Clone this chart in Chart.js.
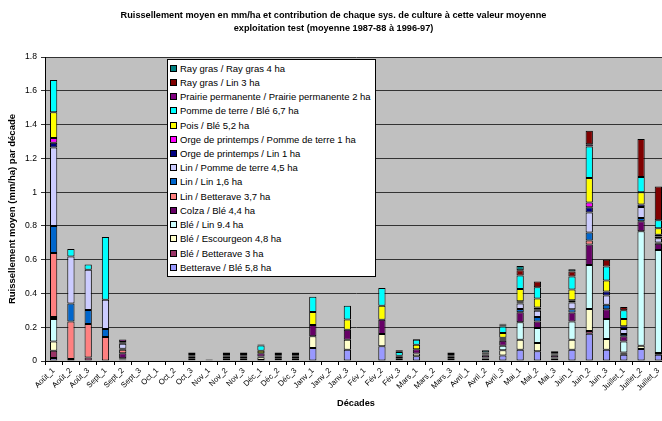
<!DOCTYPE html>
<html>
<head>
<meta charset="utf-8">
<script src="https://cdn.jsdelivr.net/npm/chart.js@4"></script>
<style>
    body { margin: 0; width: 662px; height: 421px; overflow: hidden; background: #fff; font-family: 'Liberation Sans', Arial, sans-serif; }
    #wrap { position: relative; width: 670px; height: 421px; }
    #legend { position: absolute; left: 167px; top: 59px; background: #fff; border: 1px solid #000; padding: 1px 4px 1px 2px; }
    #legend div { height: 14.24px; display: flex; align-items: center; font-size: 9.5px; color: #000; white-space: nowrap; }
    #legend span { display: inline-block; width: 5px; height: 5px; border: 1px solid #000; margin-right: 3px; }
</style>
</head>
<body>
<div id="wrap">
    <canvas id="chart" width="670" height="421"></canvas>
    <div id="legend"></div>
</div>
<script>
const categories = ['Août_1', 'Août_2', 'Août_3', 'Sept_1', 'Sept_2', 'Sept_3', 'Oct_1', 'Oct_2', 'Oct_3', 'Nov_1', 'Nov_2', 'Nov_3',
    'Déc_1', 'Déc_2', 'Déc_3', 'Janv_1', 'Janv_2', 'Janv_3', 'Fév_1', 'Fév_2', 'Fév_3', 'Mars_1', 'Mars_2', 'Mars_3',
    'Avril_1', 'Avril_2', 'Avril_3', 'Mai_1', 'Mai_2', 'Mai_3', 'Juin_1', 'Juin_2', 'Juin_3', 'Juillet_1', 'Juillet_2', 'Juillet_3'];

// one row of 12 values per line: Août_1..Nov_3, Déc_1..Mars_3, Avril_1..Juillet_3
const betteraveBle = [0.018, 0, 0, 0, 0.005, 0, 0, 0, 0.004, 0, 0.004, 0.004,
    0.006, 0.004, 0.004, 0.077, 0, 0.067, 0, 0.087, 0.005, 0.028, 0, 0.004,
    0, 0.005, 0.032, 0.067, 0.057, 0.005, 0.067, 0.162, 0.067, 0.037, 0.071, 0.037];
const bleBetterave = [0.043, 0.012, 0.021, 0, 0.003, 0, 0, 0, 0, 0, 0, 0,
    0, 0, 0, 0, 0, 0, 0, 0, 0, 0, 0, 0,
    0, 0, 0, 0, 0, 0, 0, 0.016, 0, 0.006, 0, 0];
const bleEscourgeon = [0.055, 0, 0, 0, 0.003, 0, 0, 0, 0.008, 0.005, 0.008, 0.008,
    0.016, 0.008, 0.008, 0.069, 0, 0.059, 0, 0.073, 0.008, 0.016, 0, 0.008,
    0, 0.010, 0.031, 0.059, 0.049, 0.010, 0.059, 0.130, 0.063, 0.008, 0.020, 0.010];
const bleLin = [0.132, 0, 0, 0, 0.005, 0, 0, 0, 0.004, 0, 0.004, 0.004,
    0.004, 0.004, 0.004, 0, 0, 0, 0, 0, 0, 0, 0, 0.004,
    0, 0.005, 0.028, 0.103, 0.089, 0.005, 0.108, 0.260, 0.118, 0.065, 0.677, 0.611];
const colzaBle = [0.012, 0, 0, 0, 0.030, 0, 0, 0, 0.012, 0, 0.012, 0.012,
    0.020, 0.012, 0.012, 0.067, 0, 0.059, 0, 0.084, 0.012, 0.026, 0, 0.012,
    0, 0.014, 0.029, 0.059, 0.039, 0.014, 0.053, 0.122, 0.059, 0.030, 0.059, 0.036];
const linBetterave = [0.379, 0.222, 0.198, 0.142, 0.020, 0, 0, 0, 0, 0, 0, 0,
    0, 0, 0, 0, 0, 0, 0, 0, 0, 0, 0, 0,
    0, 0, 0, 0, 0, 0, 0, 0.024, 0, 0, 0, 0];
const linLin = [0.161, 0.107, 0.083, 0.047, 0.006, 0, 0, 0, 0, 0, 0, 0,
    0, 0, 0, 0, 0, 0, 0, 0, 0, 0, 0, 0,
    0, 0, 0.006, 0.020, 0.026, 0, 0.020, 0.047, 0.026, 0.014, 0.020, 0.007];
const linPdt = [0.464, 0.278, 0.238, 0.174, 0.030, 0, 0, 0, 0.003, 0, 0.003, 0.003,
    0, 0.003, 0.003, 0, 0, 0, 0, 0, 0, 0, 0, 0.003,
    0, 0.004, 0.006, 0.032, 0.037, 0.004, 0.039, 0.118, 0.055, 0.030, 0.065, 0.026];
const orgeLin = [0.029, 0, 0, 0, 0.006, 0, 0, 0, 0, 0, 0, 0,
    0, 0, 0, 0, 0, 0, 0, 0, 0, 0, 0, 0,
    0, 0, 0.006, 0.008, 0.010, 0, 0.010, 0.032, 0.024, 0.016, 0.014, 0.010];
const orgePdt = [0.028, 0, 0, 0, 0.004, 0, 0, 0, 0, 0, 0, 0,
    0, 0, 0, 0, 0, 0, 0, 0, 0, 0, 0, 0,
    0, 0, 0, 0.006, 0.010, 0, 0.004, 0.028, 0, 0, 0, 0.010];
const poisBle = [0.152, 0, 0, 0, 0, 0, 0, 0, 0, 0, 0, 0,
    0.014, 0, 0, 0.077, 0, 0.061, 0, 0.083, 0.006, 0.026, 0, 0,
    0, 0, 0.028, 0.073, 0.053, 0, 0.063, 0.144, 0.065, 0.043, 0.073, 0.039];
const pdtBle = [0.191, 0.044, 0.032, 0.371, 0, 0, 0, 0, 0, 0, 0, 0,
    0.032, 0, 0, 0.090, 0, 0.081, 0, 0.105, 0.022, 0.030, 0, 0,
    0, 0, 0.039, 0.079, 0.067, 0, 0.077, 0.187, 0.083, 0.051, 0.091, 0.047];
const prairie = [0, 0, 0, 0, 0.016, 0, 0, 0, 0.004, 0, 0.004, 0.004,
    0.006, 0.004, 0.004, 0, 0, 0, 0, 0, 0.004, 0.004, 0, 0.004,
    0, 0.005, 0.003, 0, 0, 0, 0, 0.014, 0, 0, 0, 0];
const rayGrasLin = [0, 0, 0, 0, 0, 0, 0, 0, 0.006, 0, 0.006, 0.006,
    0, 0.006, 0.006, 0, 0, 0, 0, 0, 0.006, 0, 0, 0.006,
    0, 0.008, 0.008, 0.032, 0.034, 0.008, 0.030, 0.079, 0.039, 0.020, 0.225, 0.201];
const rayGrasRayGras = [0, 0, 0, 0, 0, 0, 0, 0, 0.010, 0.004, 0.010, 0.010,
    0, 0.010, 0.010, 0, 0, 0, 0, 0, 0, 0, 0, 0.010,
    0, 0.012, 0.005, 0.024, 0, 0.012, 0.014, 0, 0, 0, 0, 0];

const seriesNames = ['Betterave / Blé 5,8 ha', 'Blé / Betterave 3 ha', 'Blé / Escourgeon 4,8 ha', 'Blé / Lin 9.4 ha',
    'Colza / Blé 4,4 ha', 'Lin / Betterave 3,7 ha', 'Lin / Lin 1,6 ha', 'Lin / Pomme de terre 4,5 ha',
    'Orge de printemps / Lin 1 ha', 'Orge de printemps / Pomme de terre 1 ha', 'Pois / Blé 5,2 ha',
    'Pomme de terre / Blé 6,7 ha', 'Prairie permanente / Prairie permanente 2 ha', 'Ray gras / Lin 3 ha', 'Ray gras / Ray gras 4 ha'];
const seriesValues = [betteraveBle, bleBetterave, bleEscourgeon, bleLin, colzaBle, linBetterave, linLin, linPdt,
    orgeLin, orgePdt, poisBle, pdtBle, prairie, rayGrasLin, rayGrasRayGras];
const seriesColors = ['#9999FF', '#993366', '#FFFFCC', '#CCFFFF', '#660066', '#FF8080', '#0066CC', '#CCCCFF',
    '#000080', '#FF00FF', '#FFFF00', '#00FFFF', '#800080', '#800000', '#008080'];

const font = "'Liberation Sans', Arial, sans-serif";

const datasets = [];
for (let i = 0; i < seriesNames.length; i++) {
    datasets.push({
        label: seriesNames[i],
        data: seriesValues[i],
        backgroundColor: seriesColors[i],
        borderColor: '#000',
        borderWidth: 1,
        borderSkipped: false,
        categoryPercentage: 1,
        barPercentage: 0.42
    });
}

const plotBackground = {
    id: 'plotBackground',
    beforeDraw(chart) {
        const a = chart.chartArea;
        chart.ctx.save();
        chart.ctx.fillStyle = '#C0C0C0';
        chart.ctx.fillRect(a.left, a.top, a.right - a.left, a.bottom - a.top);
        chart.ctx.restore();
    }
};

const chart = new Chart(document.getElementById('chart'), {
    type: 'bar',
    data: { labels: categories, datasets: datasets },
    plugins: [plotBackground],
    options: {
        responsive: false,
        animation: false,
        layout: { padding: { left: 0, right: 3, top: 0, bottom: 0 } },
        plugins: {
            legend: { display: false },
            tooltip: { enabled: false },
            title: {
                display: true,
                text: ['Ruissellement moyen en mm/ha et contribution de chaque sys. de culture à cette valeur moyenne',
                    'exploitation test (moyenne 1987-88 à 1996-97)'],
                color: '#000',
                font: { family: font, size: 9.2, weight: 'bold', lineHeight: 1.42 },
                padding: { top: 9, bottom: 21.9 }
            }
        },
        scales: {
            x: {
                stacked: true,
                afterFit: function (s) { s.height = 60; },
                border: { color: '#000' },
                grid: { offset: true, drawOnChartArea: false, drawTicks: true, tickLength: 4, color: '#000' },
                ticks: { autoSkip: false, minRotation: 45, maxRotation: 45, padding: 1, color: '#000', font: { family: font, size: 7.8 } },
                title: { display: true, text: 'Décades', color: '#000', font: { family: font, size: 9.2, weight: 'bold' }, padding: { top: 0, bottom: 12.5 } }
            },
            y: {
                stacked: true,
                min: 0,
                max: 1.8,
                afterFit: function (s) { s.width = 45; },
                border: { color: '#000' },
                grid: { color: '#333', tickLength: 4 },
                ticks: {
                    stepSize: 0.2, padding: 4, color: '#000', font: { family: font, size: 8.6 },
                    callback: function (v) { return String(Math.round(v * 10) / 10); }
                },
                title: { display: true, text: 'Ruissellement moyen (mm/ha) par décade', color: '#000', font: { family: font, size: 9.5, weight: 'bold' }, padding: { top: 6.3, bottom: 0 } }
            }
        }
    }
});

// legend box drawn over the plot, last series on top like the original
function buildLegend() {
    const box = document.getElementById('legend');
    for (let i = chart.data.datasets.length - 1; i >= 0; i--) {
        const ds = chart.data.datasets[i];
        const row = document.createElement('div');
        const swatch = document.createElement('span');
        swatch.style.background = ds.backgroundColor;
        row.append(swatch);
        row.append(document.createTextNode(ds.label));
        box.append(row);
    }
}
buildLegend();
</script>
</body>
</html>
